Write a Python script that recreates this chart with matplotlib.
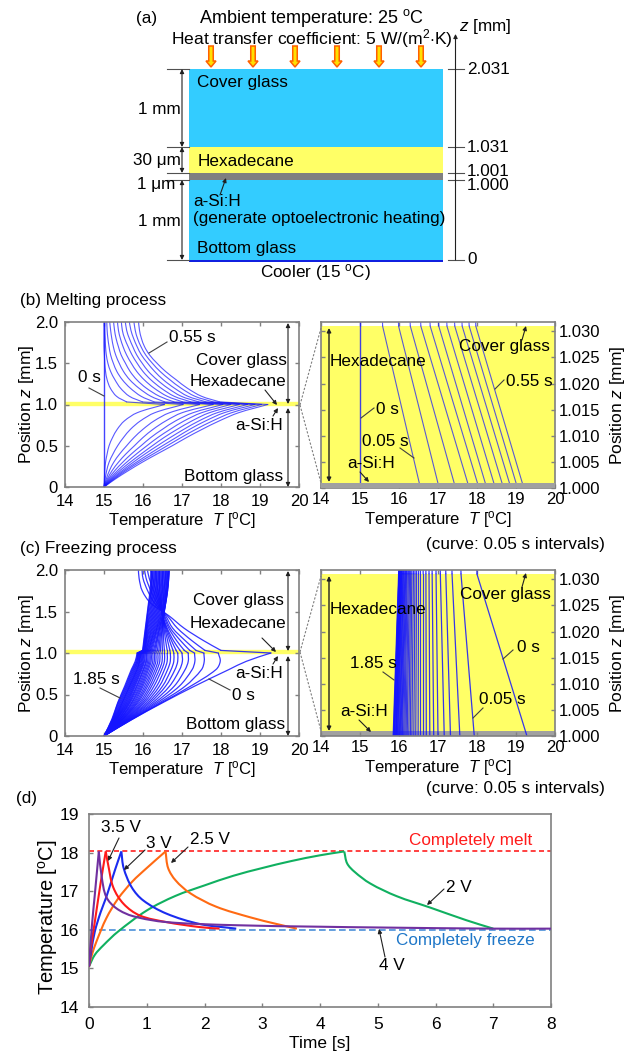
import matplotlib
matplotlib.use('Agg')
import numpy as np
import matplotlib.pyplot as plt
from matplotlib.patches import Rectangle, FancyArrow, PathPatch
from matplotlib.path import Path
from matplotlib.transforms import IdentityTransform

plt.rcParams['font.family'] = ['Liberation Sans', 'DejaVu Sans']
plt.rcParams['mathtext.fontset'] = 'custom'
plt.rcParams['mathtext.rm'] = 'Liberation Sans'
plt.rcParams['mathtext.it'] = 'Liberation Sans:italic'

W, H = 641, 1056
GRAY = '#808080'
YELLOW = '#ffff66'
GLASS = '#33ccff'
CURVE = '#1414ff'

# positions through the layers [mm]
z_low = [0, 0.2, 0.4, 0.6, 0.8, 0.9, 1.0]
z_melt_low = [0, 0.1, 0.2, 0.3, 0.4, 0.5, 0.6, 0.7, 0.8, 0.9, 1.0]
z_melt_top = [1.031, 1.1, 1.2, 1.3, 1.4, 1.5, 1.6, 1.7, 1.8, 1.9, 2.031]
z_top = [1.031, 1.15, 1.3, 1.45, 1.6, 1.75, 1.9, 2.031]

# melting, 0 s is flat at 15
melt_start = 15.0
melt_low = [
    [15, 15.01, 15.02, 15.04, 15.08, 15.13, 15.22, 15.34, 15.52, 15.85, 16.55],
    [15, 15.03, 15.07, 15.13, 15.23, 15.35, 15.5, 15.68, 15.93, 16.3, 17.03],
    [15, 15.06, 15.14, 15.25, 15.4, 15.58, 15.77, 16.0, 16.28, 16.68, 17.45],
    [15, 15.09, 15.21, 15.37, 15.56, 15.78, 16.0, 16.26, 16.58, 17.0, 17.8],
    [15, 15.12, 15.28, 15.48, 15.7, 15.95, 16.2, 16.5, 16.83, 17.28, 18.05],
    [15, 15.15, 15.35, 15.58, 15.83, 16.1, 16.38, 16.7, 17.05, 17.5, 18.25],
    [15, 15.18, 15.41, 15.67, 15.95, 16.24, 16.54, 16.88, 17.25, 17.7, 18.47],
    [15, 15.21, 15.47, 15.75, 16.05, 16.37, 16.7, 17.05, 17.43, 17.9, 18.68],
    [15, 15.24, 15.52, 15.83, 16.16, 16.5, 16.85, 17.2, 17.6, 18.08, 18.87],
    [15, 15.27, 15.57, 15.9, 16.26, 16.62, 16.98, 17.36, 17.78, 18.27, 19.04],
    [15, 15.3, 15.63, 15.98, 16.36, 16.75, 17.12, 17.52, 17.95, 18.45, 19.2],
]
melt_top = [
    [15.58, 15.32, 15.16, 15.08, 15.04, 15.02, 15.01, 15, 15, 15, 15],
    [15.99, 15.65, 15.42, 15.28, 15.17, 15.1, 15.06, 15.04, 15.03, 15.02, 15.02],
    [16.29, 15.95, 15.67, 15.47, 15.33, 15.24, 15.17, 15.13, 15.1, 15.08, 15.07],
    [16.56, 16.2, 15.89, 15.66, 15.5, 15.39, 15.3, 15.24, 15.2, 15.17, 15.14],
    [16.8, 16.42, 16.08, 15.84, 15.67, 15.55, 15.44, 15.37, 15.31, 15.27, 15.24],
    [17.02, 16.62, 16.28, 16.03, 15.84, 15.7, 15.58, 15.49, 15.42, 15.37, 15.34],
    [17.23, 16.8, 16.46, 16.2, 16.0, 15.85, 15.72, 15.62, 15.53, 15.47, 15.44],
    [17.43, 16.98, 16.63, 16.36, 16.14, 15.98, 15.84, 15.74, 15.65, 15.58, 15.54],
    [17.62, 17.15, 16.8, 16.52, 16.3, 16.12, 15.96, 15.85, 15.76, 15.69, 15.64],
    [17.8, 17.33, 16.97, 16.69, 16.44, 16.24, 16.07, 15.95, 15.86, 15.8, 15.76],
    [17.97, 17.5, 17.13, 16.85, 16.58, 16.36, 16.17, 16.04, 15.96, 15.91, 15.88],
]

# freezing, 0 s to 1.85 s
freeze_low = [
    [15, 15.72, 16.5, 17.32, 18.2, 18.65, 19.28],
    [15, 15.72, 16.47, 17.22, 17.87, 17.98, 17.93],
    [15, 15.70, 16.42, 17.08, 17.5, 17.57, 17.56],
    [15, 15.68, 16.36, 16.93, 17.26, 17.33, 17.32],
    [15, 15.66, 16.3, 16.8, 17.08, 17.16, 17.16],
    [15, 15.64, 16.24, 16.68, 16.94, 17.01, 17.0],
    [15, 15.62, 16.18, 16.58, 16.82, 16.89, 16.89],
    [15, 15.60, 16.13, 16.5, 16.72, 16.79, 16.79],
    [15, 15.58, 16.08, 16.42, 16.63, 16.7, 16.7],
    [15, 15.56, 16.03, 16.35, 16.55, 16.62, 16.62],
    [15, 15.54, 15.99, 16.28, 16.48, 16.55, 16.55],
    [15, 15.52, 15.95, 16.22, 16.42, 16.49, 16.49],
    [15, 15.50, 15.91, 16.17, 16.36, 16.43, 16.43],
    [15, 15.48, 15.87, 16.12, 16.31, 16.38, 16.38],
    [15, 15.47, 15.84, 16.08, 16.26, 16.33, 16.33],
    [15, 15.45, 15.81, 16.04, 16.22, 16.29, 16.29],
    [15, 15.44, 15.78, 16.0, 16.18, 16.25, 16.25],
    [15, 15.42, 15.75, 15.97, 16.14, 16.21, 16.21],
    [15, 15.41, 15.72, 15.94, 16.11, 16.18, 16.18],
    [15, 15.40, 15.70, 15.91, 16.08, 16.15, 16.15],
    [15, 15.38, 15.67, 15.88, 16.05, 16.12, 16.12],
    [15, 15.37, 15.65, 15.85, 16.02, 16.09, 16.09],
    [15, 15.36, 15.63, 15.83, 16.0, 16.07, 16.07],
    [15, 15.34, 15.61, 15.8, 15.97, 16.04, 16.05],
    [15, 15.33, 15.59, 15.78, 15.95, 16.02, 16.03],
    [15, 15.32, 15.57, 15.76, 15.93, 16.0, 16.01],
    [15, 15.31, 15.55, 15.74, 15.91, 15.98, 15.99],
    [15, 15.3, 15.53, 15.72, 15.89, 15.96, 15.97],
    [15, 15.29, 15.51, 15.7, 15.87, 15.94, 15.96],
    [15, 15.28, 15.49, 15.68, 15.85, 15.92, 15.94],
    [15, 15.27, 15.47, 15.66, 15.84, 15.91, 15.93],
    [15, 15.26, 15.46, 15.65, 15.82, 15.9, 15.92],
    [15, 15.25, 15.44, 15.63, 15.8, 15.88, 15.91],
    [15, 15.24, 15.42, 15.61, 15.78, 15.87, 15.89],
    [15, 15.23, 15.4, 15.59, 15.76, 15.85, 15.88],
    [15, 15.22, 15.38, 15.57, 15.74, 15.84, 15.87],
    [15, 15.21, 15.36, 15.55, 15.72, 15.82, 15.86],
    [15, 15.2, 15.35, 15.53, 15.7, 15.8, 15.85],
]
freeze_top = [
    [18.0, 17.55, 17.05, 16.66, 16.2, 15.98, 15.9, 15.88],
    [17.59, 17.25, 16.88, 16.62, 16.3, 16.12, 16.0, 15.97],
    [17.36, 17.08, 16.76, 16.58, 16.36, 16.2, 16.08, 16.03],
    [17.2, 16.96, 16.7, 16.55, 16.4, 16.27, 16.16, 16.1],
    [17.06, 16.86, 16.66, 16.53, 16.43, 16.33, 16.25, 16.2],
    [16.95, 16.78, 16.62, 16.51, 16.45, 16.38, 16.34, 16.32],
    [16.85, 16.73, 16.6, 16.5, 16.46, 16.43, 16.42, 16.42],
    [16.77, 16.68, 16.58, 16.5, 16.48, 16.49, 16.5, 16.52],
    [16.69, 16.63, 16.56, 16.51, 16.52, 16.54, 16.57, 16.6],
    [16.62, 16.58, 16.54, 16.52, 16.55, 16.58, 16.62, 16.65],
    [16.55, 16.53, 16.52, 16.53, 16.57, 16.61, 16.65, 16.67],
    [16.5, 16.49, 16.5, 16.53, 16.58, 16.62, 16.66, 16.67],
    [16.45, 16.46, 16.49, 16.53, 16.58, 16.63, 16.66, 16.67],
    [16.41, 16.43, 16.47, 16.52, 16.58, 16.63, 16.65, 16.66],
    [16.37, 16.4, 16.45, 16.51, 16.57, 16.62, 16.64, 16.64],
    [16.33, 16.37, 16.43, 16.5, 16.56, 16.6, 16.62, 16.62],
    [16.3, 16.35, 16.42, 16.49, 16.55, 16.58, 16.6, 16.6],
    [16.27, 16.33, 16.4, 16.47, 16.53, 16.56, 16.58, 16.58],
    [16.24, 16.3, 16.38, 16.46, 16.51, 16.54, 16.56, 16.56],
    [16.21, 16.28, 16.36, 16.44, 16.49, 16.52, 16.54, 16.54],
    [16.19, 16.26, 16.35, 16.42, 16.47, 16.5, 16.52, 16.52],
    [16.17, 16.24, 16.33, 16.4, 16.45, 16.48, 16.5, 16.5],
    [16.15, 16.22, 16.31, 16.38, 16.43, 16.46, 16.48, 16.48],
    [16.13, 16.21, 16.29, 16.36, 16.41, 16.44, 16.46, 16.46],
    [16.11, 16.19, 16.27, 16.34, 16.39, 16.42, 16.44, 16.44],
    [16.1, 16.17, 16.25, 16.32, 16.37, 16.4, 16.42, 16.42],
    [16.08, 16.15, 16.23, 16.3, 16.35, 16.38, 16.4, 16.4],
    [16.07, 16.14, 16.21, 16.28, 16.33, 16.36, 16.38, 16.38],
    [16.06, 16.12, 16.19, 16.26, 16.31, 16.34, 16.36, 16.36],
    [16.05, 16.1, 16.17, 16.24, 16.29, 16.32, 16.34, 16.34],
    [16.04, 16.09, 16.15, 16.22, 16.27, 16.3, 16.32, 16.32],
    [16.03, 16.08, 16.13, 16.2, 16.25, 16.28, 16.3, 16.3],
    [16.02, 16.07, 16.11, 16.18, 16.23, 16.26, 16.28, 16.28],
    [16.02, 16.06, 16.1, 16.16, 16.21, 16.24, 16.26, 16.26],
    [16.01, 16.05, 16.09, 16.14, 16.19, 16.22, 16.24, 16.24],
    [16.0, 16.04, 16.08, 16.12, 16.17, 16.21, 16.22, 16.22],
    [16.0, 16.03, 16.07, 16.11, 16.15, 16.2, 16.21, 16.21],
    [15.99, 16.02, 16.06, 16.1, 16.14, 16.18, 16.2, 16.2],
]

# panel (d), temperature against time for each voltage
t_2v = [0, 0.1, 0.25, 0.5, 1, 1.5, 2, 2.5, 3, 3.5, 4, 4.42, 4.47, 4.6, 4.87, 5.33, 5.9, 6.53, 7.0]
T_2v = [15.05, 15.35, 15.6, 15.95, 16.5, 16.88, 17.15, 17.4, 17.6, 17.78, 17.93, 18.03, 17.72, 17.5, 17.2, 16.87, 16.58, 16.25, 16.03]
t_25v = [0, 0.05, 0.13, 0.3, 0.5, 0.75, 1, 1.325, 1.37, 1.5, 1.75, 2.2, 2.8, 3.25, 3.6]
T_25v = [15.05, 15.35, 15.7, 16.3, 16.8, 17.25, 17.6, 18.03, 17.6, 17.28, 16.95, 16.6, 16.32, 16.15, 16.03]
t_3v = [0, 0.04, 0.1, 0.2, 0.3, 0.45, 0.56, 0.6, 0.74, 0.94, 1.34, 1.92, 2.55]
T_3v = [15.05, 15.45, 15.95, 16.45, 16.85, 17.55, 18.03, 17.6, 17.1, 16.76, 16.42, 16.15, 16.03]
t_35v = [0, 0.03, 0.1, 0.2, 0.29, 0.33, 0.42, 0.6, 0.88, 1.34, 1.92, 2.26]
T_35v = [15.05, 15.5, 16.2, 17.2, 18.03, 17.7, 17.1, 16.67, 16.37, 16.2, 16.07, 16.03]
t_4v = [0, 0.05, 0.1, 0.17, 0.22, 0.3, 0.48, 0.77, 1.34, 2.5, 4, 5, 7, 8]
T_4v = [15.05, 16.1, 16.9, 18.03, 17.37, 16.85, 16.55, 16.35, 16.2, 16.12, 16.08, 16.06, 16.03, 16.03]
melt_line = 18.03
freeze_line = 16.0


def ax_at(fig, x0, y0, x1, y1):
    # pixel box, y measured from the top of the picture
    return fig.add_axes([x0 / W, 1 - y1 / H, (x1 - x0) / W, (y1 - y0) / H])


def style(ax, fs=12):
    for s in ax.spines.values():
        s.set_color(GRAY)
        s.set_linewidth(1.2)
    ax.tick_params(direction='in', length=3, width=1, color=GRAY, labelsize=fs,
                   top=True, right=True, pad=5)


def smooth(ax, xs, ys, **kw):
    # bezier through the read points, worked out in screen pixels
    p = ax.transData.transform(np.column_stack([xs, ys]))
    tan = np.gradient(p, axis=0)
    tan[1:-1] = p[2:] - p[:-2]
    tan /= np.maximum(np.linalg.norm(tan, axis=1, keepdims=True), 1e-6)
    verts = [p[0]]
    codes = [Path.MOVETO]
    for i in range(len(p) - 1):
        d = np.linalg.norm(p[i + 1] - p[i]) / 3
        verts += [p[i] + tan[i] * d, p[i + 1] - tan[i + 1] * d, p[i + 1]]
        codes += [Path.CURVE4] * 3
    ax.add_artist(PathPatch(Path(verts, codes), fill=False, transform=IdentityTransform(), **kw))


def profile(ax, low, top, z_a, z_b, **kw):
    smooth(ax, low, z_a, **kw)
    ax.plot([low[-1], top[0]], [z_a[-1], z_b[0]], color=kw['edgecolor'], lw=kw['lw'],
            alpha=kw['alpha'], zorder=kw['zorder'])
    smooth(ax, top, z_b, **kw)


def trace(ax, t, T, color):
    # rise and fall meet in a sharp corner at the peak
    k = int(np.argmax(T))
    smooth(ax, t[:k + 1], T[:k + 1], edgecolor=color, lw=1.5, zorder=3)
    smooth(ax, t[k:], T[k:], edgecolor=color, lw=1.5, zorder=3)


def txt(x, y, s, ha='left', size=12.3, color='black', **kw):
    ov.text(x, y, s, ha=ha, va='center', fontsize=size, color=color, **kw)


def leader(x0, y0, x1, y1, color='#404040'):
    ov.plot([x0, x1], [y0, y1], color=color, lw=0.8)


def arrow(x0, y0, x1, y1, style='-|>', lw=0.8):
    ov.annotate('', xy=(x1, y1), xytext=(x0, y0),
                arrowprops=dict(arrowstyle=style, color='#202020', lw=lw, mutation_scale=6,
                                shrinkA=0, shrinkB=0))


def left_profile(ax):
    ax.set_xlim(14, 20)
    ax.set_ylim(0, 2)
    ax.set_xticks(range(14, 21))
    ax.set_yticks([0, 0.5, 1, 1.5, 2])
    ax.set_yticklabels(['0', '0.5', '1.0', '1.5', '2.0'])
    ax.axhspan(1.0, 1.031, color=YELLOW, lw=1, zorder=1)
    style(ax)
    ax.set_xlabel('Temperature  $\\mathit{T}$ [$^{\\mathrm{o}}$C]', fontsize=12, labelpad=1)
    ax.set_ylabel('Position $\\mathit{z}$ [mm]', fontsize=12.5, labelpad=-1)


def right_profile(ax):
    ax.set_xlim(14, 20)
    ax.set_ylim(1.0, 1.0318)
    ax.set_xticks(range(14, 21))
    ax.set_yticks([1.0, 1.005, 1.01, 1.015, 1.02, 1.025, 1.03])
    ax.set_yticklabels(['1.000', '1.005', '1.010', '1.015', '1.020', '1.025', '1.030'])
    ax.axhspan(1.001, 1.031, color=YELLOW, lw=0, zorder=1)
    style(ax)
    ax.tick_params(labelleft=False, labelright=True, pad=3)
    ax.yaxis.set_label_position('right')
    ax.set_xlabel('Temperature  $\\mathit{T}$ [$^{\\mathrm{o}}$C]', fontsize=12, labelpad=1)
    ax.set_ylabel('Position $\\mathit{z}$ [mm]', fontsize=12.5, labelpad=5)


fig = plt.figure(figsize=(W / 100, H / 100), dpi=100)

# (b) melting
ax_b = ax_at(fig, 65, 322, 299, 487)
left_profile(ax_b)
ax_b2 = ax_at(fig, 321, 322, 555, 488)
right_profile(ax_b2)
for ax in (ax_b, ax_b2):
    ax.plot([melt_start, melt_start], [0, 2.031], color=CURVE, lw=1.0, alpha=0.8, zorder=2)
    for low, top in zip(melt_low, melt_top):
        profile(ax, low, top, z_melt_low, z_melt_top, edgecolor=CURVE, lw=0.8, alpha=0.7, zorder=2)
ax_b2.axhspan(1.0, 1.001, color='#a0a0a0', lw=0, zorder=3)

# (c) freezing
ax_c = ax_at(fig, 65, 570, 299, 736)
left_profile(ax_c)
ax_c2 = ax_at(fig, 321, 570, 555, 736)
right_profile(ax_c2)
ax_c2.axhspan(1.0, 1.001, color='#a0a0a0', lw=0, zorder=1)
for ax in (ax_c, ax_c2):
    for low, top in zip(freeze_low, freeze_top):
        profile(ax, low, top, z_low, z_top, edgecolor=CURVE, lw=0.9, alpha=0.85, zorder=2)

# (d) time traces
ax_d = ax_at(fig, 89, 814, 551, 1007)
ax_d.set_xlim(0, 8)
ax_d.set_ylim(14, 19)
ax_d.set_xticks(range(9))
ax_d.set_yticks(range(14, 20))
style(ax_d, fs=12.5)
ax_d.tick_params(top=False, right=False, pad=7)
ax_d.axhline(melt_line, color='#ff2020', lw=1.2, ls=(0, (3, 2)))
ax_d.axhline(freeze_line, color='#4a90d9', lw=1.2, ls=(0, (4, 2)))
trace(ax_d, t_2v, T_2v, '#10b060')
trace(ax_d, t_25v, T_25v, '#ff6a13')
trace(ax_d, t_3v, T_3v, '#1a2cf0')
trace(ax_d, t_35v, T_35v, '#ff1a1a')
trace(ax_d, t_4v, T_4v, '#7030a0')
ax_d.set_xlabel('Time [s]', fontsize=12.5, labelpad=3)
ax_d.set_ylabel('Temperature [$^{\\mathrm{o}}$C]', fontsize=14.5, labelpad=0, y=0.465)

# pixel overlay for the schematic and all call-outs
ov = fig.add_axes([0, 0, 1, 1], zorder=10)
ov.set_xlim(0, W)
ov.set_ylim(H, 0)
ov.axis('off')
ov.patch.set_alpha(0)

# (a) layer stack
layer_x0, layer_x1 = 189, 443
ov.add_patch(Rectangle((layer_x0, 69), layer_x1 - layer_x0, 78, color=GLASS, lw=0))
ov.add_patch(Rectangle((layer_x0, 147), layer_x1 - layer_x0, 26, color=YELLOW, lw=0))
ov.add_patch(Rectangle((layer_x0, 173), layer_x1 - layer_x0, 7, color=GRAY, lw=0))
ov.add_patch(Rectangle((layer_x0, 180), layer_x1 - layer_x0, 80, color=GLASS, lw=0))
ov.add_patch(Rectangle((layer_x0, 259.5), layer_x1 - layer_x0, 2, color='#1020e0', lw=0))
for ax_x in [211, 253, 295, 337, 379, 421]:
    ov.add_patch(FancyArrow(ax_x, 46, 0, 21, width=4.5, head_width=10, head_length=6,
                            length_includes_head=True, facecolor='#ffe000',
                            edgecolor='#ff6000', lw=1.1))
txt(136, 18, '(a)')
txt(312, 18, 'Ambient temperature: 25 $^{\\mathrm{o}}$C', ha='center', size=13)
txt(312, 39, 'Heat transfer coefficient: 5 W/(m$^{2}$$\\cdot$K)', ha='center', size=12.6)
txt(459, 27, '$\\mathit{z}$ [mm]')
txt(197, 82, 'Cover glass')
txt(198, 161, 'Hexadecane')
txt(193, 202, 'a-Si:H')
txt(193, 219, '(generate optoelectronic heating)')
txt(197, 249, 'Bottom glass')
txt(316, 273, 'Cooler (15 $^{\\mathrm{o}}$C)', ha='center')
txt(181, 110, '1 mm', ha='right')
txt(181, 160, '30 \u03bcm', ha='right')
txt(175, 184, '1 \u03bcm', ha='right')
txt(181, 221, '1 mm', ha='right')
for y in [69, 147, 173, 180, 260]:
    ov.plot([167, 189], [y, y], color='#505050', lw=0.8)
    ov.plot([448, 464], [y, y], color='#505050', lw=0.8)
arrow(182, 69, 182, 147, '<|-|>')
arrow(182, 147, 182, 173, '<|-|>')
arrow(182, 180, 182, 260, '<|-|>')
arrow(455.5, 260, 455.5, 34)
arrow(220, 195, 226, 178)
for y, s in [(69, '2.031'), (147, '1.031'), (171, '1.001'), (186, '1.000'), (260, '0')]:
    txt(467, y, s)

# (b) call-outs
txt(20, 300, '(b) Melting process')
txt(169, 338, '0.55 s')
leader(167, 342, 149, 353)
txt(287, 360, 'Cover glass', ha='right')
txt(286, 382, 'Hexadecane', ha='right')
arrow(265, 390, 277, 405)
txt(283, 426, 'a-Si:H', ha='right')
arrow(273, 416, 278, 408)
txt(283, 476, 'Bottom glass', ha='right')
txt(78, 378, '0 s')
leader(89, 388, 104, 396)
arrow(288, 404, 288, 323, '<|-|>')
arrow(288, 408, 288, 487, '<|-|>')
ov.plot([300, 321], [405, 328], color=GRAY, lw=0.8, ls=(0, (2, 1.5)))
ov.plot([300, 321], [405, 483], color=GRAY, lw=0.8, ls=(0, (2, 1.5)))
arrow(329, 328, 329, 482, '<|-|>', lw=1.0)
txt(330, 362, 'Hexadecane')
txt(376, 410, '0 s')
leader(374, 408, 361, 418)
txt(362, 442, '0.05 s')
leader(400, 448, 414, 458)
txt(347, 464, 'a-Si:H')
arrow(360, 472, 369, 482)
txt(550, 347, 'Cover glass', ha='right')
arrow(522, 340, 526, 326)
txt(506, 382, '0.55 s')
leader(504, 380, 495, 389)
txt(605, 544, '(curve: 0.05 s intervals)', ha='right')

# (c) call-outs
txt(20, 549, '(c) Freezing process')
txt(73, 680, '1.85 s')
leader(100, 688, 120, 698)
txt(232, 695, '0 s')
leader(230, 690, 209, 679)
txt(284, 600, 'Cover glass', ha='right')
txt(286, 624, 'Hexadecane', ha='right')
arrow(262, 638, 276, 652)
txt(283, 674, 'a-Si:H', ha='right')
arrow(273, 664, 278, 656)
txt(285, 724, 'Bottom glass', ha='right')
arrow(288, 651, 288, 571, '<|-|>')
arrow(288, 656, 288, 736, '<|-|>')
ov.plot([300, 321], [652, 576], color=GRAY, lw=0.8, ls=(0, (2, 1.5)))
ov.plot([300, 321], [652, 731], color=GRAY, lw=0.8, ls=(0, (2, 1.5)))
arrow(329, 576, 329, 731, '<|-|>', lw=1.0)
txt(330, 609, 'Hexadecane')
txt(350, 663, '1.85 s')
leader(383, 672, 394, 680)
txt(479, 700, '0.05 s')
leader(483, 708, 473, 718)
txt(517, 647, '0 s')
leader(513, 650, 503, 659)
txt(340, 712, 'a-Si:H')
arrow(359, 720, 371, 732)
txt(551, 595, 'Cover glass', ha='right')
arrow(522, 587, 526, 573)
txt(605, 788, '(curve: 0.05 s intervals)', ha='right')

# (d) call-outs
txt(16, 799, '(d)')
txt(101, 828, '3.5 V')
arrow(119, 838, 108, 861)
txt(146, 843, '3 V')
arrow(145, 850, 124, 870)
txt(190, 840, '2.5 V')
arrow(188, 847, 171, 863)
txt(446, 887, '2 V')
arrow(444, 889, 427, 905)
txt(379, 966, '4 V')
arrow(385, 957, 379, 929)
txt(409, 841, 'Completely melt', color='#ff1a1a')
txt(396, 940, 'Completely freeze', color='#1f77c8')

fig.savefig('out.png', dpi=100)
